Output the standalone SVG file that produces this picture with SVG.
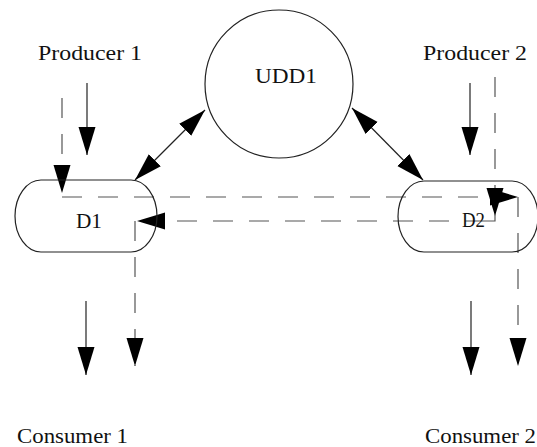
<svg xmlns="http://www.w3.org/2000/svg" width="537" height="447" viewBox="0 0 537 447">
<style>
.lbl{font-family:"Liberation Serif","Times New Roman",serif;font-size:20px;fill:#111}
.shape{fill:#fff;stroke:#222;stroke-width:1.2}
.solid{fill:none;stroke:#222;stroke-width:1.2}
.dash{fill:none;stroke:#555;stroke-width:1.2;stroke-dasharray:20 16}
</style>
<defs>
<marker id="ah" markerUnits="userSpaceOnUse" markerWidth="30" markerHeight="18" refX="28" refY="8.5" orient="auto-start-reverse" viewBox="0 0 30 18">
<path d="M0,0 L28,8.5 L0,17 Z" fill="#000" stroke="none"/>
</marker>
</defs>
<rect width="537" height="447" fill="#fff"/>
<g id="connectors">
<line class="solid" x1="87" y1="83" x2="87" y2="155" marker-end="url(#ah)"/>
<line class="solid" x1="470" y1="83" x2="470" y2="155" marker-end="url(#ah)"/>
<line class="solid" x1="86" y1="301" x2="86" y2="375" marker-end="url(#ah)"/>
<line class="solid" x1="471" y1="301" x2="471" y2="375" marker-end="url(#ah)"/>
<line class="solid" x1="135" y1="180" x2="205" y2="110" marker-start="url(#ah)" marker-end="url(#ah)"/>
<line class="solid" x1="352" y1="108" x2="423" y2="180" marker-start="url(#ah)" marker-end="url(#ah)"/>
<line class="dash" x1="62" y1="98" x2="62" y2="193" marker-end="url(#ah)"/>
<line class="dash" x1="62" y1="197" x2="518" y2="197" marker-end="url(#ah)"/>
<line class="dash" x1="518" y1="197" x2="518" y2="366" marker-end="url(#ah)"/>
<line class="dash" x1="495" y1="77" x2="495" y2="216" marker-end="url(#ah)"/>
<polyline class="solid" points="495,214 495,221 485,221" style="stroke:#555"/>
<line class="dash" x1="485" y1="221" x2="137" y2="221" marker-end="url(#ah)"/>
<line class="dash" x1="135" y1="221" x2="135" y2="366" marker-end="url(#ah)"/>
</g>
<g id="udd1">
<circle class="shape" cx="279" cy="84" r="74" style="fill:none"/>
<text class="lbl" x="255" y="83" textLength="62" lengthAdjust="spacingAndGlyphs">UDD1</text>
</g>
<g id="d1">
<rect class="shape" x="15" y="180" width="142" height="72" rx="26" ry="36" style="fill:none"/>
<text class="lbl" x="76" y="228" textLength="26" lengthAdjust="spacingAndGlyphs">D1</text>
</g>
<g id="d2">
<rect class="shape" x="398" y="181" width="140" height="71" rx="26" ry="35.5" style="fill:none"/>
<text class="lbl" x="462" y="227" textLength="23" lengthAdjust="spacingAndGlyphs">D2</text>
</g>
<g id="producer1"><text class="lbl" x="38" y="60" textLength="104" lengthAdjust="spacingAndGlyphs">Producer 1</text></g>
<g id="producer2"><text class="lbl" x="423" y="60" textLength="104" lengthAdjust="spacingAndGlyphs">Producer 2</text></g>
<g id="consumer1"><text class="lbl" x="17" y="443" textLength="111" lengthAdjust="spacingAndGlyphs">Consumer 1</text></g>
<g id="consumer2"><text class="lbl" x="425" y="443" textLength="111" lengthAdjust="spacingAndGlyphs">Consumer 2</text></g>
</svg>
